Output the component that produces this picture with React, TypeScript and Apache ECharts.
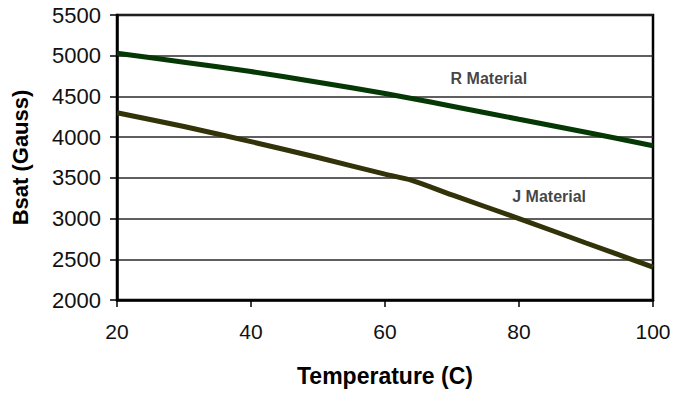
import React, { useEffect, useRef } from "react";
import * as echarts from "echarts";

const temperatures = [20, 30, 40, 50, 60, 64, 70, 80, 90, 100];
const rMaterial = [5030, 4920, 4805, 4675, 4535, 4475, 4380, 4220, 4060, 3895];
const jMaterial = [4300, 4130, 3945, 3750, 3545, 3470, 3290, 3000, 2700, 2405];
const seriesNames = ["R Material", "J Material"];
const labelPositions: [number, number][] = [
  [75.5, 4718],
  [84.5, 3269],
];
const xTicks = [20, 40, 60, 80, 100];
const yTicks = [2000, 2500, 3000, 3500, 4000, 4500, 5000, 5500];

export default function App() {
  const ref = useRef<HTMLDivElement>(null);
  useEffect(() => {
    if (!ref.current) return;
    const chart = echarts.init(ref.current, null, { renderer: "svg" });
    const font = "Liberation Sans, Arial, sans-serif";
    chart.setOption({
      animation: false,
      backgroundColor: "#ffffff",
      grid: {
        left: 117,
        right: 22,
        top: 15,
        bottom: 96,
        show: true,
        borderColor: "#000000",
        borderWidth: 2.5,
        containLabel: false,
      },
      xAxis: {
        type: "value",
        min: xTicks[0],
        max: xTicks[xTicks.length - 1],
        interval: 20,
        name: "Temperature (C)",
        nameLocation: "middle",
        nameGap: 64,
        nameTextStyle: { fontFamily: font, fontSize: 23, fontWeight: "bold", color: "#000" },
        axisLine: { show: true, lineStyle: { color: "#000", width: 2.5 } },
        axisTick: { show: true, length: 7, lineStyle: { color: "#000", width: 1.5 } },
        axisLabel: { fontFamily: font, fontSize: 21, color: "#111", margin: 21 },
        splitLine: { show: false },
      },
      yAxis: {
        type: "value",
        min: yTicks[0],
        max: yTicks[yTicks.length - 1],
        interval: 500,
        name: "Bsat (Gauss)",
        nameLocation: "middle",
        nameGap: 86,
        nameTextStyle: { fontFamily: font, fontSize: 22, fontWeight: "bold", color: "#000" },
        axisLine: { show: true, lineStyle: { color: "#000", width: 2.5 } },
        axisTick: { show: true, length: 7, lineStyle: { color: "#000", width: 1.5 } },
        axisLabel: {
          fontFamily: font,
          fontSize: 22,
          color: "#111",
          margin: 16,
          formatter: (v: number) => String(v),
        },
        splitLine: { show: true, lineStyle: { color: "#2a2a2a", width: 1.5 } },
      },
      series: [
        {
          name: seriesNames[0],
          type: "line",
          data: temperatures.map((t, i) => [t, rMaterial[i]]),
          showSymbol: false,
          smooth: 0.3,
          lineStyle: { color: "#063806", width: 5 },
        },
        {
          name: seriesNames[1],
          type: "line",
          data: temperatures.map((t, i) => [t, jMaterial[i]]),
          showSymbol: false,
          smooth: 0.3,
          lineStyle: { color: "#33330a", width: 5 },
        },
        {
          type: "scatter",
          symbolSize: 0,
          data: labelPositions.map((p, i) => ({ value: p, name: seriesNames[i] })),
          label: {
            show: true,
            position: "inside",
            formatter: (p: any) => p.name,
            fontFamily: font,
            fontSize: 16,
            fontWeight: "bold",
            color: "#111",
          },
        },
      ],
    });
    return () => chart.dispose();
  }, []);
  return (
    <div
      ref={ref}
      style={{ position: "absolute", left: 0, top: 0, width: 675, height: 396 }}
    />
  );
}
